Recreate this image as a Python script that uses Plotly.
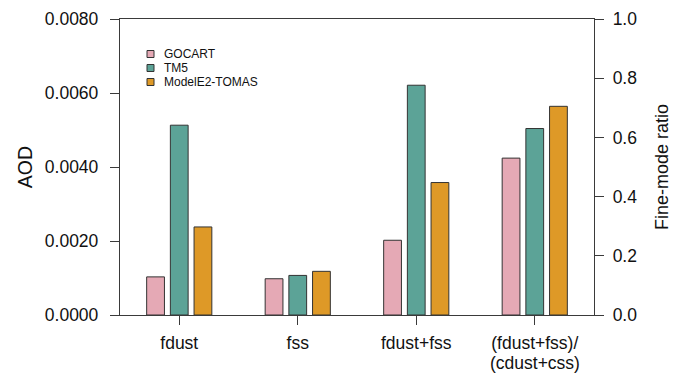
import plotly.graph_objects as go

# Categories on the x axis (first three use AOD, the last uses the fine-mode ratio)
categories = ["fdust", "fss", "fdust+fss", "(fdust+fss)/"]
last_label_second_line = "(cdust+css)"
models = ["GOCART", "TM5", "ModelE2-TOMAS"]

# AOD values for fdust, fss, fdust+fss
aod_gocart = [0.00103, 0.00098, 0.00202]
aod_tm5 = [0.00513, 0.00107, 0.00621]
aod_modele2 = [0.00238, 0.00118, 0.00358]

# Fine-mode ratio (fdust+fss)/(cdust+css)
ratio_gocart = [0.53]
ratio_tm5 = [0.63]
ratio_modele2 = [0.705]

colors = ["#E5A9B5", "#5CA397", "#DE9927"]
aod_series = [aod_gocart, aod_tm5, aod_modele2]
ratio_series = [ratio_gocart, ratio_tm5, ratio_modele2]

FONT = "Liberation Sans, Arial, Helvetica, sans-serif"
AXIS_COLOR = "#3a3a3a"
W, H = 674, 373
L, R, T, B = 120, 80, 19, 58
BAR_W = 0.15
SHIFT = [-0.2, 0.0, 0.2]
TICK_SIZE = 17.5

fig = go.Figure()
aod_x = list(range(len(aod_gocart)))
ratio_x = [len(aod_gocart)]
for i, name in enumerate(models):
    fig.add_trace(go.Bar(
        x=aod_x, y=aod_series[i], name=name, yaxis="y",
        width=BAR_W, offset=SHIFT[i] - BAR_W / 2,
        marker=dict(color=colors[i], line=dict(color="#333333", width=1)),
        showlegend=False,
    ))
    fig.add_trace(go.Bar(
        x=ratio_x, y=ratio_series[i], name=name, yaxis="y2",
        width=BAR_W, offset=SHIFT[i] - BAR_W / 2,
        marker=dict(color=colors[i], line=dict(color="#333333", width=1)),
        showlegend=False,
    ))

# Legend drawn as small squares with labels in the upper left of the plot
plot_w = W - L - R
plot_h = H - T - B


def px_x(px):
    return (px - L) / plot_w


def px_y(py):
    return (H - B - py) / plot_h


shapes = []
annotations = []
row_y = [54, 68, 82]
for i, name in enumerate(models):
    cy = row_y[i]
    shapes.append(dict(
        type="rect", xref="paper", yref="paper",
        x0=px_x(147), x1=px_x(154), y0=px_y(cy + 3.5), y1=px_y(cy - 3.5),
        fillcolor=colors[i], line=dict(color="#333333", width=1),
    ))
    annotations.append(dict(
        xref="paper", yref="paper", x=px_x(162), y=px_y(cy),
        xanchor="left", yanchor="middle", text=name, showarrow=False,
        font=dict(family=FONT, size=12, color="#111111"),
    ))

# Second line of the last category label, set with tighter line spacing
annotations.append(dict(
    xref="x", yref="paper", x=len(categories) - 1, y=px_y(363),
    xanchor="center", yanchor="middle", text=last_label_second_line,
    showarrow=False, font=dict(family=FONT, size=TICK_SIZE, color="#111111"),
))

fig.update_layout(
    width=W, height=H,
    margin=dict(l=L, r=R, t=T, b=B, pad=0),
    paper_bgcolor="white", plot_bgcolor="white",
    barmode="overlay",
    font=dict(family=FONT, size=TICK_SIZE, color="#111111"),
    shapes=shapes, annotations=annotations,
    xaxis=dict(
        range=[-0.5, 3.5], tickvals=list(range(len(categories))), ticktext=categories,
        showline=True, linecolor=AXIS_COLOR, linewidth=1.3, mirror=True,
        ticks="outside", ticklen=9, tickcolor=AXIS_COLOR, tickwidth=1.3,
        showgrid=False, zeroline=False, tickfont=dict(size=TICK_SIZE),
        ticklabelstandoff=3, automargin=False,
    ),
    yaxis=dict(
        range=[0, 0.008], tickvals=[0, 0.002, 0.004, 0.006, 0.008], tickformat=".4f",
        showline=True, linecolor=AXIS_COLOR, linewidth=1.3,
        ticks="outside", ticklen=9, tickcolor=AXIS_COLOR, tickwidth=1.3,
        showgrid=False, zeroline=False, tickfont=dict(size=TICK_SIZE),
        ticklabelstandoff=8, automargin=False,
        title=dict(text="AOD", font=dict(size=19.5), standoff=6),
    ),
    yaxis2=dict(
        range=[0, 1], tickvals=[0, 0.2, 0.4, 0.6, 0.8, 1.0], tickformat=".1f",
        overlaying="y", side="right",
        showline=True, linecolor=AXIS_COLOR, linewidth=1.3,
        ticks="outside", ticklen=9, tickcolor=AXIS_COLOR, tickwidth=1.3,
        showgrid=False, zeroline=False, tickfont=dict(size=TICK_SIZE),
        ticklabelstandoff=5, automargin=False,
        title=dict(text="Fine-mode ratio", font=dict(size=18), standoff=19),
    ),
)

fig.write_html("out.html")
